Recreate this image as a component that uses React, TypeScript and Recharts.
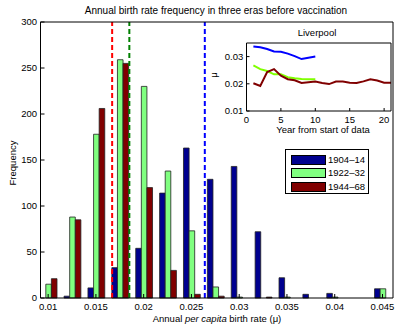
import React from 'react';
import { ComposedChart, Bar, XAxis, YAxis, ReferenceLine, LineChart, Line, Label } from 'recharts';

// histogram bins (annual per capita birth rate)
const binCenters = [0.01, 0.0125, 0.015, 0.0175, 0.02, 0.0225, 0.025, 0.0275, 0.03, 0.0325, 0.035, 0.0375, 0.04, 0.0425, 0.045];
const freq1904 = [0, 2, 11, 33, 54, 114, 163, 129, 143, 72, 22, 4, 5, 0, 10];
const freq1922 = [15, 88, 178, 259, 230, 138, 73, 12, 1, 0, 1, 0, 1, 0, 10];
const freq1944 = [21, 85, 206, 255, 120, 30, 4, 2, 0, 1, 0, 0, 0, 0, 0];

const xTicks = [0.01, 0.015, 0.02, 0.025, 0.03, 0.035, 0.04, 0.045];
const yTicks = [0, 50, 100, 150, 200, 250, 300];

// era means (dashed lines)
const mean1944 = 0.0167;
const mean1922 = 0.0185;
const mean1904 = 0.0264;

// Liverpool inset
const insetYears = [1, 2, 3, 4, 5, 6, 7, 8, 9, 10, 11, 12, 13, 14, 15, 16, 17, 18, 19, 20, 21];
const liv1904 = [0.0337, 0.0334, 0.0328, 0.0319, 0.0318, 0.0311, 0.0302, 0.0291, 0.0296, 0.03];
const liv1922 = [0.0268, 0.0254, 0.0247, 0.0235, 0.0235, 0.0224, 0.022, 0.0218, 0.0217, 0.0217];
const liv1944 = [0.0202, 0.0192, 0.0243, 0.0254, 0.023, 0.0217, 0.0213, 0.0203, 0.0206, 0.0208, 0.0203, 0.0199, 0.0208, 0.0208, 0.0204, 0.0203, 0.0209, 0.0217, 0.0212, 0.0204, 0.0204];
const insetXTicks = [0, 5, 10, 15, 20];
const insetYTicks = [0.01, 0.02, 0.03];

const eras = [
  { key: 'e1904', name: '1904\u201314', fill: '#00008f' },
  { key: 'e1922', name: '1922\u201332', fill: '#80ff80' },
  { key: 'e1944', name: '1944\u201368', fill: '#800000' },
];

const histRows = binCenters.map((x, i) => ({ x, e1904: freq1904[i], e1922: freq1922[i], e1944: freq1944[i] }));
const insetRows = insetYears.map((yr, i) => ({ yr, a: liv1904[i], b: liv1922[i], c: liv1944[i] }));

const FONT = '"Liberation Sans", Arial, Helvetica, sans-serif';
const tickStyle = { fill: '#000', fontSize: 9.5, fontFamily: FONT };
const xDomain = [0.0092, 0.0461];

const TitleLabel = () => (
  <text x={216} y={14} textAnchor="middle" fontSize={10} fontFamily={FONT} fill="#000">
    Annual birth rate frequency in three eras before vaccination
  </text>
);

const XTitle = () => (
  <text x={217} y={322} textAnchor="middle" fontSize={9.5} fontFamily={FONT} fill="#000">
    Annual <tspan fontStyle="italic">per capita</tspan> birth rate ({'\u03bc'})
  </text>
);

const YTitle = () => (
  <text x={12} y={163} transform="rotate(-90 12 163)" textAnchor="middle" dominantBaseline="central" fontSize={9.5} fontFamily={FONT} fill="#000">
    Frequency
  </text>
);

const InsetTitle = () => (
  <text x={117} y={11} textAnchor="middle" fontSize={9.5} fontFamily={FONT} fill="#000">
    Liverpool
  </text>
);

const InsetXTitle = () => (
  <text x={123} y={108} textAnchor="middle" fontSize={9.5} fontFamily={FONT} fill="#000">
    Year from start of data
  </text>
);

const InsetYTitle = () => (
  <text x={13} y={50} transform="rotate(-90 13 50)" textAnchor="middle" dominantBaseline="central" fontSize={9.5} fontFamily={FONT} fill="#000">
    {'\u03bc'}
  </text>
);

const LegendBox = () => (
  <div
    style={{
      position: 'absolute', left: 285, top: 149, width: 84, height: 45,
      border: '1px solid #000', background: '#fff', boxSizing: 'border-box',
      fontFamily: FONT, fontSize: 9.5, color: '#000',
    }}
  >
    {eras.map((e, i) => (
      <div key={e.key} style={{ position: 'absolute', left: 5, top: 5 + i * 13.3, height: 10, display: 'flex', alignItems: 'center' }}>
        <div style={{ width: 35, height: 10, background: e.fill, border: '1px solid #000', boxSizing: 'border-box' }} />
        <span style={{ marginLeft: 2, lineHeight: '10px' }}>{e.name}</span>
      </div>
    ))}
  </div>
);

export default function App() {
  return (
    <div style={{ position: 'absolute', left: 0, top: 0, width: 396, height: 325, background: '#fff', fontFamily: FONT }}>
      <ComposedChart
        width={396}
        height={325}
        data={histRows}
        margin={{ top: 21, right: 2, bottom: 0, left: 0 }}
        barGap={0}
        barSize={5.6}
      >
        <XAxis
          xAxisId="top"
          orientation="top"
          type="number"
          dataKey="x"
          domain={xDomain}
          allowDataOverflow
          ticks={xTicks}
          tick={false}
          tickSize={-4}
          height={1}
          stroke="#000"
        >
          <Label content={TitleLabel} />
        </XAxis>
        <XAxis
          type="number"
          dataKey="x"
          domain={xDomain}
          allowDataOverflow
          ticks={xTicks}
          interval={0}
          tickSize={-4}
          tickMargin={9}
          height={27}
          stroke="#000"
          tick={tickStyle}
        >
          <Label content={XTitle} />
        </XAxis>
        <YAxis
          domain={[0, 300]}
          ticks={yTicks}
          interval={0}
          tickSize={-4}
          tickMargin={7.5}
          width={40.5}
          stroke="#000"
          tick={tickStyle}
        >
          <Label content={YTitle} />
        </YAxis>
        <YAxis
          yAxisId="right"
          orientation="right"
          domain={[0, 300]}
          ticks={yTicks}
          tick={false}
          tickSize={-4}
          width={1}
          stroke="#000"
        />
        {eras.map((e) => (
          <Bar key={e.key} dataKey={e.key} name={e.name} fill={e.fill} stroke="#222" strokeWidth={0.8} isAnimationActive={false} />
        ))}
        <ReferenceLine x={mean1944} stroke="#ff0000" strokeWidth={2} strokeDasharray="5 3" />
        <ReferenceLine x={mean1922} stroke="#008000" strokeWidth={2} strokeDasharray="5 3" />
        <ReferenceLine x={mean1904} stroke="#0000ff" strokeWidth={2} strokeDasharray="5 3" />
      </ComposedChart>

      <div style={{ position: 'absolute', left: 200, top: 25 }}>
        <LineChart width={196} height={115} data={insetRows} margin={{ top: 17, right: 4, bottom: 0, left: 0 }}>
          <XAxis
            xAxisId="top"
            orientation="top"
            type="number"
            dataKey="yr"
            domain={[0, 21]}
            allowDataOverflow
            ticks={insetXTicks}
            tick={false}
            tickSize={-3}
            height={1}
            stroke="#000"
          >
            <Label content={InsetTitle} />
          </XAxis>
          <XAxis
            type="number"
            dataKey="yr"
            domain={[0, 21]}
            allowDataOverflow
            ticks={insetXTicks}
            interval={0}
            tickSize={-3}
            tickMargin={8.7}
            height={29}
            stroke="#000"
            tick={tickStyle}
          >
            <Label content={InsetXTitle} />
          </XAxis>
          <YAxis
            domain={[0.01, 0.035]}
            allowDataOverflow
            ticks={insetYTicks}
            interval={0}
            tickSize={-3}
            tickMargin={6.2}
            width={46.5}
            stroke="#000"
            tick={tickStyle}
          >
            <Label content={InsetYTitle} />
          </YAxis>
          <YAxis
            yAxisId="right"
            orientation="right"
            domain={[0.01, 0.035]}
            ticks={insetYTicks}
            tick={false}
            tickSize={-3}
            width={1}
            stroke="#000"
          />
          <Line type="linear" dataKey="a" stroke="#0000ff" strokeWidth={2} dot={false} isAnimationActive={false} />
          <Line type="linear" dataKey="b" stroke="#80ff00" strokeWidth={2} dot={false} isAnimationActive={false} />
          <Line type="linear" dataKey="c" stroke="#800000" strokeWidth={2} dot={false} isAnimationActive={false} />
        </LineChart>
      </div>

      <LegendBox />
    </div>
  );
}
